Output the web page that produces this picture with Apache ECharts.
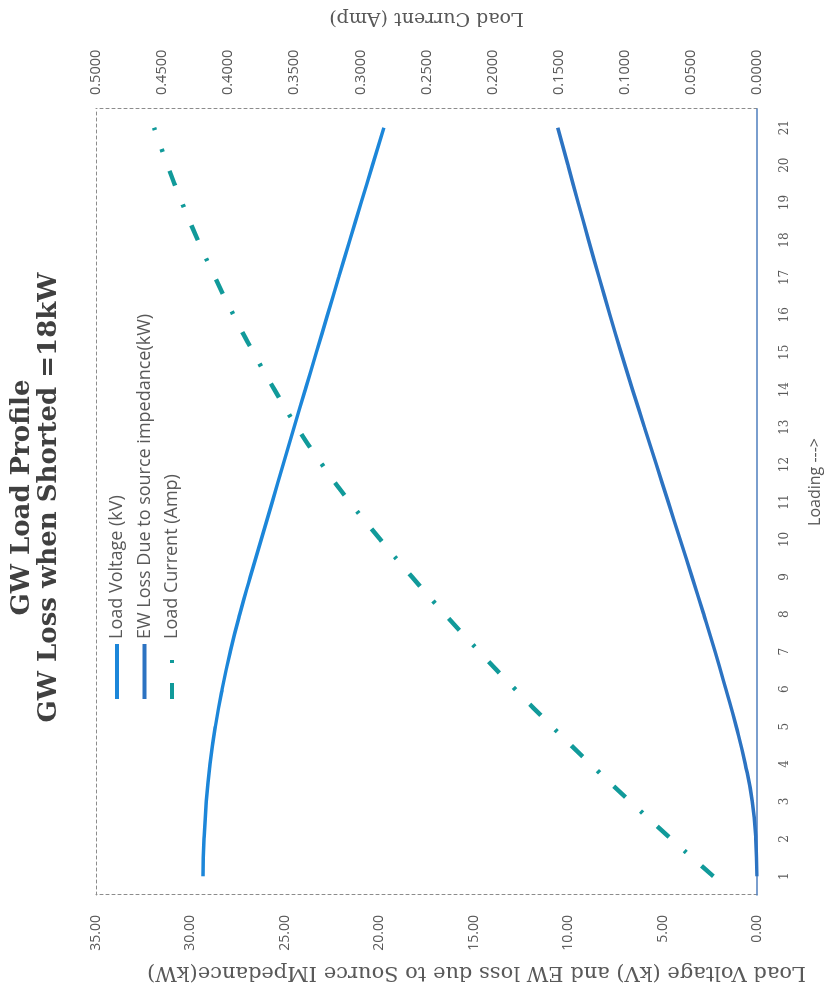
<!DOCTYPE html>
<html>
<head>
    <meta charset="utf-8" />
    <title>GW Load Profile</title>
    <script src="https://cdn.jsdelivr.net/npm/echarts@6/dist/echarts.min.js"></script>
    <style>
        html, body {
            width: 828px;
            height: 995px;
            margin: 0;
            padding: 0;
            overflow: hidden;
            background: #fff;
        }
        /* the chart is laid out landscape, then turned a quarter left like the page it came from */
        #main {
            position: absolute;
            left: 0;
            top: 0;
            width: 995px;
            height: 828px;
            transform-origin: 0 0;
            transform: translate(0, 995px) rotate(-90deg);
        }
    </style>
</head>
<body>
    <div id="main"></div>
<script type="text/javascript">
    var categories = ['1', '2', '3', '4', '5', '6', '7', '8', '9', '10', '11',
        '12', '13', '14', '15', '16', '17', '18', '19', '20', '21'];
    var loadVoltage = [29.33, 29.28, 29.16, 28.96, 28.68, 28.32, 27.89, 27.39, 26.83, 26.25, 25.67,
        25.09, 24.51, 23.92, 23.33, 22.74, 22.15, 21.56, 20.96, 20.36, 19.76];
    var ewLoss = [0, 0.06, 0.25, 0.62, 1.10, 1.65, 2.22, 2.82, 3.44, 4.07, 4.70,
        5.33, 5.96, 6.59, 7.20, 7.79, 8.36, 8.92, 9.47, 10.01, 10.55];
    var loadCurrent = [0.033, 0.065, 0.096, 0.126, 0.155, 0.183, 0.210, 0.236, 0.261, 0.285, 0.308,
        0.329, 0.348, 0.365, 0.381, 0.396, 0.410, 0.423, 0.435, 0.446, 0.456];

    var grey = '#595959';
    // dashed box on the three sides that are not the category axis
    var border = { show: true, onZero: false, lineStyle: { color: '#8c8c8c', type: [3, 3], width: 1 } };

    var myChart = echarts.init(document.getElementById('main'));
    myChart.setOption({
        animation: false,
        title: {
            text: 'GW Load Profile\nGW Loss when Shorted =18kW',
            left: 'center',
            top: 4,
            textStyle: {
                fontFamily: 'DejaVu Serif',
                fontWeight: 'bold',
                fontSize: 26,
                lineHeight: 27,
                color: '#404040'
            }
        },
        legend: {
            orient: 'vertical',
            left: 289,
            top: 103,
            itemWidth: 55,
            itemHeight: 14,
            itemGap: 9.5,
            itemStyle: { opacity: 0 },
            lineStyle: { width: 4 },
            textStyle: { fontFamily: 'Open Sans', fontSize: 18, color: grey }
        },
        grid: { left: 100, right: 104, top: 96, bottom: 71 },
        xAxis: [{
            type: 'category',
            data: categories,
            name: 'Loading --->',
            nameLocation: 'middle',
            nameGap: 50,
            nameTextStyle: { fontFamily: 'Open Sans', fontSize: 16, color: grey, padding: [0, 0, 0, 40] },
            axisLine: { lineStyle: { color: '#4f7fbf', width: 1.5 } },
            axisTick: { show: false },
            axisLabel: { margin: 22, fontFamily: 'DejaVu Serif', fontSize: 12, color: grey }
        }, {
            type: 'category',
            data: categories,
            position: 'top',
            axisLine: border,
            axisTick: { show: false },
            axisLabel: { show: false }
        }],
        yAxis: [{
            type: 'value',
            min: 0,
            max: 35,
            interval: 5,
            name: 'Load Voltage (kV) and EW loss due to Source IMpedance(kW)',
            nameLocation: 'middle',
            nameGap: 60,
            nameTextStyle: { fontFamily: 'DejaVu Serif', fontSize: 21, color: grey, padding: [0, 100, 0, 0] },
            axisLine: border,
            axisTick: { show: false },
            splitLine: { show: false },
            axisLabel: {
                margin: 20,
                fontFamily: 'Open Sans',
                fontSize: 14,
                color: grey,
                formatter: function (v) { return v.toFixed(2); }
            }
        }, {
            type: 'value',
            min: 0,
            max: 0.5,
            interval: 0.05,
            position: 'right',
            name: 'Load Current (Amp)',
            nameLocation: 'middle',
            nameGap: 82,
            nameTextStyle: { fontFamily: 'DejaVu Serif', fontSize: 19, color: grey },
            axisLine: border,
            axisTick: { show: false },
            splitLine: { show: false },
            axisLabel: {
                margin: 14,
                fontFamily: 'Open Sans',
                fontSize: 14.5,
                color: grey,
                formatter: function (v) { return v.toFixed(4); }
            }
        }],
        series: [{
            name: 'Load Voltage (kV)',
            type: 'line',
            data: loadVoltage,
            smooth: true,
            symbol: 'none',
            itemStyle: { color: '#1c86d9' },
            lineStyle: { color: '#1c86d9', width: 3.5 }
        }, {
            name: 'EW Loss Due to source impedance(kW)',
            type: 'line',
            data: ewLoss,
            smooth: true,
            symbol: 'none',
            itemStyle: { color: '#2c73c2' },
            lineStyle: { color: '#2c73c2', width: 3.5 }
        }, {
            name: 'Load Current (Amp)',
            type: 'line',
            yAxisIndex: 1,
            data: loadCurrent,
            smooth: true,
            symbol: 'none',
            itemStyle: { color: '#119a9a' },
            lineStyle: { color: '#119a9a', width: 4.5, type: [16, 20, 3, 20] }
        }]
    });
</script>
</body>
</html>
